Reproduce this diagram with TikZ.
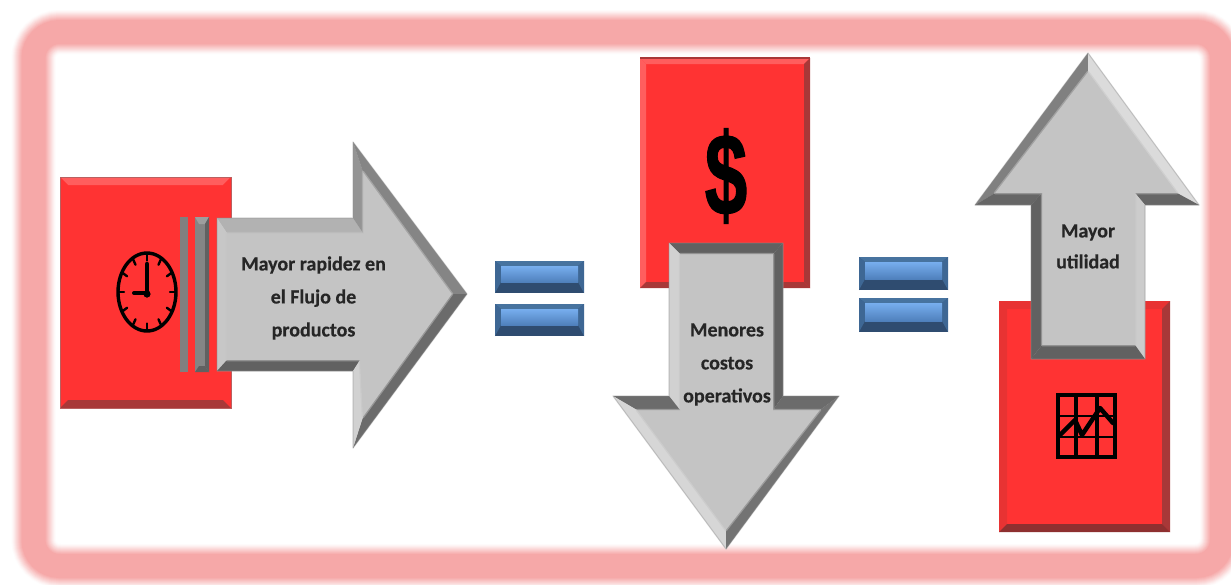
\documentclass[tikz,border=0pt]{standalone}
\usepackage{fontspec}
\setmainfont[BoldFeatures={FakeBold=0.4}]{Carlito}
\newfontfamily\dollarfont[BoldFeatures={FakeBold=1.2}]{Liberation Sans}
\newcommand{\facet}[2]{\fill[#1] #2 -- cycle;}
\tikzset{
  x=1pt,y=-1pt,
  label text/.style={font=\fontsize{20}{33}\selectfont\bfseries,text=black!85,align=center,inner sep=0pt},
  icon line/.style={draw=black,line cap=round,line join=round},
  soft inner/.style={draw=greyface,draw opacity=.5,line width=2.5pt,line join=round},
  soft outer/.style={draw=black!45,draw opacity=.35,line width=1.2pt,line join=round}
}
\newcommand{\rbox}[9]{% x1 y1 x2 y2 b top left right bottom
  \fill[facecol] (#1,#2) rectangle (#3,#4);
  \fill[#6] (#1,#2) -- (#3,#2) -- ({#3-#5},{#2+#5}) -- ({#1+#5},{#2+#5}) -- cycle;
  \fill[#7] (#1,#2) -- (#1,#4) -- ({#1+#5},{#4-#5}) -- ({#1+#5},{#2+#5}) -- cycle;
  \fill[#8] (#3,#2) -- (#3,#4) -- ({#3-#5},{#4-#5}) -- ({#3-#5},{#2+#5}) -- cycle;
  \fill[#9] (#1,#4) -- (#3,#4) -- ({#3-#5},{#4-#5}) -- ({#1+#5},{#4-#5}) -- cycle;
}
\newcommand{\eqbar}[4]{% x1 y1 x2 y2
  \fill[bluebot] (#1,#2) rectangle (#3,#4);
  \fill[bluetop] (#1,#2) -- (#3,#2) -- ({#3-6},{#2+5}) -- ({#1+6},{#2+5}) -- cycle;
  \fill[blueside] (#1,#2) -- ({#1+6},{#2+5}) -- ({#1+6},{#4-11}) -- (#1,#4) -- cycle;
  \fill[blueside] (#3,#2) -- ({#3-6},{#2+5}) -- ({#3-6},{#4-11}) -- (#3,#4) -- cycle;
  \shade[top color=blueface,bottom color=bluelow] ({#1+6},{#2+5}) rectangle ({#3-6},{#4-11});
}
\colorlet{facecol}{red}
\definecolor{redface}{HTML}{FF3333}
\definecolor{redlight}{HTML}{FF5E5E}
\definecolor{reddark}{HTML}{A83838}
\definecolor{redsoft}{HTML}{E83333}
\definecolor{redbot}{HTML}{8E3030}
\definecolor{blueface}{HTML}{77AEEE}
\definecolor{bluelow}{HTML}{4F80BC}
\definecolor{bluetop}{HTML}{47739F}
\definecolor{blueside}{HTML}{3E6794}
\definecolor{bluebot}{HTML}{2F4C70}
\definecolor{greyface}{HTML}{C4C4C4}
\definecolor{framecol}{HTML}{F6A8A8}
\begin{document}
\begin{tikzpicture}
\useasboundingbox (0,0) rectangle (1231,584);
\fill[white] (0,0) rectangle (1231,584);
% frame, soft edge
\foreach \w/\p in {44/5,42/12,40/20,38/30,36/40,34/50,32/60,30/70,28/80,26/90,24/100}{
  \draw[framecol!\p!white,line width=\w pt,rounded corners=26] (33.5,32) rectangle (1222,566);
}
% ---- left square
\colorlet{facecol}{redface}
\rbox{60}{177}{231}{408}{8}{redlight}{redface}{redface}{reddark}
\draw[reddark!80,line width=1pt] (60,177) rectangle (231,408);
% clock
\draw[icon line,line width=3.4pt] (147,292) ellipse [x radius=29,y radius=39];
\foreach \a in {0,30,...,330}{
  \draw[icon line,line width=2.4pt] ({147+28*cos(\a)},{292+38*sin(\a)}) -- ({147+23*cos(\a)},{292+31.5*sin(\a)});
}
\draw[icon line,line width=4.5pt] (147,295) -- (147,264);
\draw[icon line,line width=4pt] (147,293) -- (134,293);
\fill (147,294) circle (3.6);
% bars
\fill[black!50] (180,217) rectangle (188,372);
\fill[black!48] (195,217) rectangle (209,372);
\fill[black!38] (195,217) -- (209,217) -- (205,224) -- (199,224) -- cycle;
\fill[black!62] (205,224) -- (209,217) -- (209,372) -- (205,366) -- cycle;
\fill[black!62] (195,372) -- (209,372) -- (205,366) -- (199,366) -- cycle;
% ---- right-pointing arrow
\fill[greyface] (217,218) -- (353,218) -- (353,142) -- (467,294) -- (353,448) -- (353,371) -- (217,371) -- cycle;
\facet{black!30}{(217,218) -- (353,218) -- (363,233) -- (227,233)}
\facet{black!22}{(217,218) -- (227,233) -- (227,360) -- (217,371)}
\facet{black!62}{(217,371) -- (353,371) -- (360,360) -- (227,360)}
\facet{black!42}{(353,218) -- (353,142) -- (363,172) -- (363,233)}
\facet{black!48}{(353,142) -- (467,294) -- (452,294) -- (363,172)}
\facet{black!58}{(467,294) -- (353,448) -- (363,417) -- (452,294)}
\facet{black!18}{(353,448) -- (353,371) -- (360,360) -- (363,417)}
\draw[soft inner] (227,233) -- (363,233) -- (363,172) -- (452,294) -- (363,417) -- (360,360) -- (227,360) -- cycle;
\draw[soft outer] (217,218) -- (353,218) -- (353,142) -- (467,294) -- (353,448) -- (353,371) -- (217,371) -- cycle;
\node[label text] (t1) at (313.5,298) {Mayor rapidez en\\el Flujo de\\productos};
% ---- first equals
\eqbar{495}{261}{584}{293}
\eqbar{495}{304}{584}{336}
% ---- middle square
\colorlet{facecol}{redface}
\rbox{640}{58}{810}{288}{6}{redlight}{redlight}{reddark}{reddark}
\draw[reddark,line width=1.2pt] (640,58) -- (810,58);
\node[font=\fontsize{116}{116}\selectfont\dollarfont\bfseries,text=black,inner sep=0pt,xscale=.66,transform shape] (dollar) at (726,176) {\$};
% ---- down arrow
\fill[greyface] (669,243) -- (783,243) -- (783,396) -- (839,396) -- (726,549) -- (613,396) -- (669,396) -- cycle;
\facet{black!62}{(669,243) -- (783,243) -- (773,254) -- (680,254)}
\facet{black!18}{(669,243) -- (680,254) -- (680,410) -- (669,396)}
\facet{black!62}{(783,243) -- (783,396) -- (773,410) -- (773,254)}
\facet{black!58}{(613,396) -- (669,396) -- (680,410) -- (637,410)}
\facet{black!58}{(783,396) -- (839,396) -- (820,410) -- (773,410)}
\facet{black!16}{(613,396) -- (637,410) -- (726,530) -- (726,549)}
\facet{black!55}{(839,396) -- (820,410) -- (726,530) -- (726,549)}
\draw[soft inner] (680,254) -- (773,254) -- (773,410) -- (820,410) -- (726,530) -- (637,410) -- (680,410) -- cycle;
\draw[soft outer] (669,243) -- (783,243) -- (783,396) -- (839,396) -- (726,549) -- (613,396) -- (669,396) -- cycle;
\node[label text] (t2) at (727,364.5) {Menores\\costos\\operativos};
% ---- second equals
\eqbar{859}{257}{948}{290}
\eqbar{859}{298}{948}{332}
% ---- right square
\colorlet{facecol}{redface}
\rbox{999}{301}{1170}{532}{8}{redsoft}{redsoft}{reddark}{redbot}
% chart
\draw[icon line,line width=4pt,line cap=butt,line join=miter] (1058,395) rectangle (1115,457);
\draw[icon line,line width=3.5pt,line cap=butt] (1076,395) -- (1076,457) (1097,395) -- (1097,457);
\draw[icon line,line width=2pt,line cap=butt] (1058,416) -- (1115,416) (1058,437) -- (1115,437);
\draw[icon line,line width=4.5pt] (1060,435) -- (1075,420) -- (1082,435) -- (1100,408) -- (1113,423);
% ---- up arrow
\fill[greyface] (1088,53) -- (1199,205) -- (1145,205) -- (1145,359) -- (1031,359) -- (1031,205) -- (975,205) -- cycle;
\facet{black!50}{(1088,53) -- (975,205) -- (995,193) -- (1088,72)}
\facet{black!14}{(1088,53) -- (1199,205) -- (1177,193) -- (1088,72)}
\facet{black!60}{(975,205) -- (1031,205) -- (1042,193) -- (995,193)}
\facet{black!60}{(1145,205) -- (1199,205) -- (1177,193) -- (1135,193)}
\facet{black!62}{(1031,205) -- (1031,359) -- (1042,345) -- (1042,193)}
\facet{black!20}{(1145,205) -- (1145,359) -- (1135,345) -- (1135,193)}
\facet{black!62}{(1031,359) -- (1145,359) -- (1135,345) -- (1042,345)}
\draw[soft inner] (1088,72) -- (1177,193) -- (1135,193) -- (1135,345) -- (1042,345) -- (1042,193) -- (995,193) -- cycle;
\draw[soft outer] (1088,53) -- (1199,205) -- (1145,205) -- (1145,359) -- (1031,359) -- (1031,205) -- (975,205) -- cycle;
\node[label text,font=\fontsize{20}{31}\selectfont\bfseries] (t3) at (1088,246.5) {Mayor\\utilidad};
\end{tikzpicture}
\end{document}
